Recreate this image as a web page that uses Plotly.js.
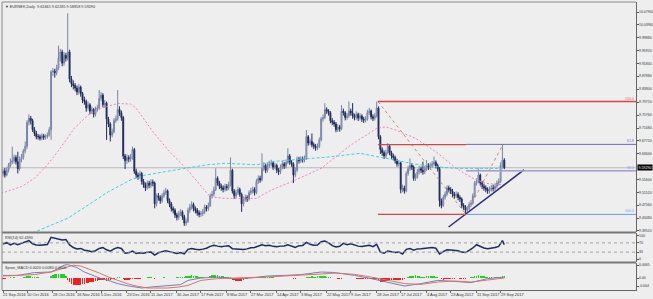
<!DOCTYPE html>
<html><head><meta charset="utf-8">
<script src="https://cdn.plot.ly/plotly-3.0.1.min.js"></script>
<style>html,body{margin:0;padding:0;background:#eeeeee;}#chart{width:653px;height:299px;}</style>
</head><body><div id="chart"></div>
<script>
// ---------- DATA ----------
const symbolName = "EURSEK,Daily";
const opens = [
9.575,9.583,9.570,9.585,9.600,9.610,9.615,9.625,9.612,9.590,
9.620,9.625,9.645,9.660,9.735,9.748,9.740,9.712,9.700,9.690,
9.690,9.685,9.693,9.688,9.690,9.695,9.712,9.893,9.895,9.890,
9.905,9.935,9.955,9.920,9.945,9.935,9.955,9.870,9.855,9.850,
9.842,9.830,9.845,9.825,9.805,9.800,9.780,9.790,9.770,9.775,
9.760,9.775,9.780,9.810,9.820,9.790,9.795,9.745,9.730,9.695,
9.705,9.740,9.745,9.775,9.765,9.750,9.630,9.615,9.625,9.620,
9.625,9.650,9.582,9.570,9.565,9.575,9.550,9.540,9.530,9.545,
9.538,9.548,9.545,9.480,9.505,9.500,9.490,9.505,9.515,9.520,
9.490,9.480,9.465,9.460,9.445,9.438,9.450,9.455,9.440,9.420,
9.425,9.460,9.470,9.478,9.465,9.460,9.452,9.447,9.450,9.455,
9.470,9.465,9.475,9.505,9.510,9.525,9.560,9.545,9.535,9.530,
9.525,9.535,9.530,9.540,9.585,9.520,9.505,9.515,9.525,9.510,
9.480,9.495,9.500,9.495,9.515,9.520,9.525,9.515,9.550,9.560,
9.555,9.590,9.600,9.585,9.600,9.605,9.608,9.595,9.600,9.585,
9.580,9.595,9.605,9.598,9.610,9.630,9.610,9.605,9.570,9.585,
9.620,9.615,9.620,9.618,9.622,9.690,9.670,9.675,9.665,9.660,
9.655,9.660,9.680,9.745,9.750,9.775,9.770,9.765,9.740,9.735,
9.730,9.712,9.720,9.715,9.770,9.765,9.750,9.755,9.770,9.765,
9.755,9.750,9.760,9.748,9.755,9.745,9.742,9.745,9.765,9.770,
9.752,9.748,9.755,9.780,9.690,9.650,9.640,9.630,9.640,9.660,
9.640,9.630,9.625,9.615,9.605,9.608,9.525,9.530,9.520,9.575,
9.590,9.600,9.595,9.560,9.565,9.580,9.590,9.585,9.580,9.590,
9.600,9.595,9.600,9.605,9.610,9.600,9.590,9.490,9.475,9.500,
9.510,9.530,9.525,9.520,9.510,9.505,9.510,9.500,9.495,9.475,
9.470,9.460,9.465,9.478,9.482,9.505,9.545,9.550,9.570,9.545,
9.535,9.530,9.525,9.520,9.525,9.530,9.528,9.535,9.545,9.550,
9.600,9.61661];
const highs = [
9.590,9.592,9.594,9.608,9.622,9.659,9.634,9.632,9.643,9.628,
9.636,9.652,9.675,9.742,9.760,9.755,9.746,9.720,9.708,9.698,
9.697,9.700,9.699,9.697,9.703,9.720,9.898,9.905,9.902,9.915,
9.975,9.965,9.962,9.955,9.952,10.076,9.962,9.880,9.866,9.858,
9.850,9.855,9.850,9.830,9.815,9.806,9.800,9.795,9.785,9.780,
9.784,9.790,9.836,9.830,9.826,9.805,9.800,9.752,9.735,9.715,
9.748,9.756,9.836,9.785,9.772,9.755,9.636,9.635,9.632,9.636,
9.659,9.655,9.590,9.578,9.584,9.580,9.558,9.547,9.553,9.552,
9.557,9.556,9.550,9.512,9.514,9.507,9.513,9.524,9.530,9.525,
9.497,9.486,9.472,9.466,9.452,9.458,9.464,9.460,9.446,9.434,
9.468,9.480,9.488,9.484,9.472,9.467,9.460,9.458,9.464,9.478,
9.476,9.484,9.512,9.520,9.534,9.591,9.566,9.552,9.543,9.538,
9.543,9.542,9.549,9.625,9.590,9.526,9.524,9.534,9.531,9.515,
9.503,9.509,9.507,9.522,9.530,9.534,9.532,9.558,9.569,9.568,
9.638,9.610,9.606,9.609,9.615,9.618,9.614,9.609,9.606,9.592,
9.603,9.614,9.611,9.619,9.654,9.636,9.617,9.610,9.594,9.628,
9.627,9.629,9.628,9.631,9.711,9.695,9.684,9.700,9.672,9.667,
9.669,9.688,9.752,9.760,9.795,9.782,9.776,9.770,9.748,9.742,
9.736,9.729,9.727,9.789,9.778,9.770,9.764,9.800,9.778,9.795,
9.762,9.769,9.765,9.764,9.760,9.752,9.754,9.774,9.780,9.775,
9.760,9.764,9.800,9.785,9.695,9.657,9.647,9.649,9.670,9.665,
9.646,9.637,9.631,9.621,9.617,9.612,9.540,9.537,9.582,9.599,
9.622,9.608,9.600,9.575,9.589,9.599,9.597,9.612,9.599,9.617,
9.607,9.609,9.614,9.628,9.616,9.606,9.595,9.497,9.508,9.519,
9.538,9.537,9.532,9.527,9.517,9.519,9.516,9.507,9.500,9.482,
9.476,9.474,9.486,9.492,9.513,9.552,9.560,9.591,9.575,9.552,
9.543,9.538,9.532,9.534,9.539,9.540,9.544,9.553,9.560,9.610,
9.666,9.62285];
const lows = [
9.565,9.562,9.566,9.578,9.594,9.604,9.606,9.603,9.575,9.584,
9.610,9.618,9.638,9.652,9.725,9.728,9.705,9.692,9.682,9.681,
9.678,9.679,9.680,9.681,9.684,9.690,9.680,9.880,9.875,9.882,
9.898,9.925,9.910,9.912,9.925,9.928,9.860,9.845,9.838,9.832,
9.820,9.822,9.815,9.795,9.790,9.768,9.772,9.760,9.762,9.750,
9.753,9.768,9.775,9.802,9.782,9.780,9.680,9.720,9.675,9.688,
9.700,9.733,9.740,9.755,9.740,9.620,9.589,9.605,9.610,9.612,
9.618,9.574,9.560,9.555,9.558,9.540,9.530,9.520,9.524,9.529,
9.530,9.535,9.466,9.472,9.490,9.480,9.483,9.498,9.508,9.482,
9.470,9.456,9.450,9.436,9.428,9.430,9.442,9.430,9.411,9.412,
9.420,9.452,9.462,9.456,9.450,9.443,9.438,9.439,9.442,9.448,
9.456,9.458,9.470,9.497,9.503,9.520,9.537,9.526,9.521,9.516,
9.518,9.521,9.523,9.535,9.512,9.495,9.498,9.508,9.502,9.455,
9.472,9.487,9.486,9.490,9.508,9.512,9.506,9.510,9.542,9.546,
9.550,9.582,9.576,9.578,9.593,9.597,9.586,9.588,9.576,9.570,
9.573,9.588,9.589,9.591,9.604,9.602,9.596,9.545,9.563,9.580,
9.606,9.608,9.609,9.610,9.617,9.662,9.663,9.657,9.651,9.646,
9.648,9.654,9.675,9.737,9.745,9.761,9.756,9.732,9.726,9.721,
9.704,9.705,9.706,9.710,9.756,9.741,9.743,9.749,9.756,9.746,
9.741,9.743,9.739,9.741,9.736,9.733,9.735,9.740,9.758,9.744,
9.739,9.741,9.750,9.682,9.636,9.630,9.620,9.623,9.635,9.632,
9.621,9.616,9.606,9.596,9.597,9.513,9.516,9.512,9.516,9.568,
9.583,9.586,9.552,9.552,9.558,9.572,9.576,9.571,9.573,9.583,
9.586,9.587,9.593,9.597,9.591,9.581,9.471,9.466,9.470,9.493,
9.504,9.516,9.511,9.501,9.496,9.498,9.491,9.486,9.466,9.461,
9.447,9.452,9.459,9.471,9.477,9.500,9.537,9.544,9.537,9.526,
9.521,9.516,9.511,9.512,9.518,9.519,9.520,9.528,9.537,9.545,
9.594,9.58858];
const closes = [
9.583,9.570,9.585,9.600,9.610,9.615,9.625,9.612,9.590,9.620,
9.625,9.645,9.660,9.735,9.748,9.740,9.712,9.700,9.690,9.690,
9.685,9.693,9.688,9.690,9.695,9.712,9.893,9.895,9.890,9.905,
9.935,9.955,9.920,9.945,9.935,9.955,9.870,9.855,9.850,9.842,
9.830,9.845,9.825,9.805,9.800,9.780,9.790,9.770,9.775,9.760,
9.775,9.780,9.810,9.820,9.790,9.795,9.745,9.730,9.695,9.705,
9.740,9.745,9.775,9.765,9.750,9.630,9.615,9.625,9.620,9.625,
9.650,9.582,9.570,9.565,9.575,9.550,9.540,9.530,9.545,9.538,
9.548,9.545,9.480,9.505,9.500,9.490,9.505,9.515,9.520,9.490,
9.480,9.465,9.460,9.445,9.438,9.450,9.455,9.440,9.420,9.425,
9.460,9.470,9.478,9.465,9.460,9.452,9.447,9.450,9.455,9.470,
9.465,9.475,9.505,9.510,9.525,9.560,9.545,9.535,9.530,9.525,
9.535,9.530,9.540,9.585,9.520,9.505,9.515,9.525,9.510,9.480,
9.495,9.500,9.495,9.515,9.520,9.525,9.515,9.550,9.560,9.555,
9.590,9.600,9.585,9.600,9.605,9.608,9.595,9.600,9.585,9.580,
9.595,9.605,9.598,9.610,9.630,9.610,9.605,9.570,9.585,9.620,
9.615,9.620,9.618,9.622,9.690,9.670,9.675,9.665,9.660,9.655,
9.660,9.680,9.745,9.750,9.775,9.770,9.765,9.740,9.735,9.730,
9.712,9.720,9.715,9.770,9.765,9.750,9.755,9.770,9.765,9.755,
9.750,9.760,9.748,9.755,9.745,9.742,9.745,9.765,9.770,9.752,
9.748,9.755,9.780,9.690,9.650,9.640,9.630,9.640,9.660,9.640,
9.630,9.625,9.615,9.605,9.608,9.525,9.530,9.520,9.575,9.590,
9.600,9.595,9.560,9.565,9.580,9.590,9.585,9.580,9.590,9.600,
9.595,9.600,9.605,9.610,9.600,9.590,9.490,9.475,9.500,9.510,
9.530,9.525,9.520,9.510,9.505,9.510,9.500,9.495,9.475,9.470,
9.460,9.465,9.478,9.482,9.505,9.545,9.550,9.570,9.545,9.535,
9.530,9.525,9.520,9.525,9.530,9.528,9.535,9.545,9.550,9.600,
9.617,9.59290];

// moving averages (read at sampled bars)
const maPinkBars = [-1,10,17,24,31,38.5,46,53,62,69,72,81,90,99,108,112,120,137,145,156,172,188,202,207,212,223,234,245,254,261,271];
const maPinkVals = [9.513,9.534,9.560,9.602,9.654,9.716,9.758,9.779,9.794,9.792,9.779,9.706,9.643,9.591,9.529,9.502,9.497,9.497,9.523,9.549,9.591,9.664,9.716,9.721,9.711,9.685,9.643,9.591,9.560,9.544,9.539];
const maCyanBars = [16,26,35,46,57,69,77,88,99,110,120,137,145,161,177,193,204,212,223,234,245,256,271];
const maCyanVals = [9.389,9.414,9.435,9.476,9.518,9.555,9.570,9.581,9.591,9.602,9.607,9.602,9.612,9.620,9.627,9.638,9.627,9.617,9.604,9.596,9.591,9.591,9.591];

// RSI
const rsiBars = [0,2,4,6,8,10,12,14,16,18,20,22,24,26,28,30,32,34,36,38,40,42,44,46,48,50,52,54,56,58,60,62,64,66,68,70,72,74,76,78,80,82,84,86,88,90,92,94,96,98,100,102,104,106,108,110,112,114,116,118,120,122,124,126,128,130,132,134,136,138,140,142,144,146,148,150,152,154,156,158,160,162,164,166,168,170,172,174,176,178,180,182,184,186,188,190,192,194,196,198,200,202,204,206,208,210,212,214,216,218,220,222,224,226,228,230,232,234,236,238,240,242,244,246,248,250,252,254,256,258,260,262,264,266,268,270,271];
const rsiVals = [65,71,61,68,62,68,75,80,66,61,60,62,63,94,90,87,83,85,61,50,44,46,38,36,32,36,46,50,40,34,44,50,46,25,27,34,24,27,25,29,30,17,27,32,36,32,28,24,28,22,42,46,42,40,43,47,55,60,56,53,56,58,45,43,42,41,44,49,50,57,62,58,60,55,53,56,57,62,55,50,58,59,72,64,60,61,75,78,70,58,52,55,68,62,66,60,56,54,56,60,54,64,30,25,35,32,28,30,22,42,46,38,44,45,46,48,50,47,22,32,40,39,38,36,30,28,38,48,62,54,48,45,47,50,55,80,62.439];
const rsiLevels = [70, 30];

// MACD
const macdBars = [0,8,17,26,30,33,35,40,44,48,53,58,62,68,75,80,85,89,96,100,107,116,125,134,143,152,161,172,178,183,190,199,208,217,226,235,244,253,262,271];
const macdMain = [0.0013,0.0013,0.0027,0.0030,0.0048,0.0064,0.0067,0.0052,0.0030,0.0015,-0.0003,-0.0015,-0.0028,-0.0040,-0.0050,-0.0045,-0.0042,-0.0040,-0.0033,-0.0012,0.0000,0.0005,-0.0003,0.0000,0.0010,0.0013,0.0017,0.0030,0.0028,0.0022,0.0013,-0.0003,-0.0020,-0.0040,-0.0028,-0.0012,-0.0017,-0.0023,-0.0003,0.0005];
const signalBars = [0,17,26,35,38,42,46,52,57,62,67,72,78,89,95,100,107,116,125,134,143,152,161,172,180,190,199,208,217,226,235,244,253,262,271];
const macdSignal = [0.0010,0.0017,0.0030,0.0055,0.0064,0.0060,0.0047,0.0025,0.0005,-0.0012,-0.0028,-0.0040,-0.0050,-0.0050,-0.0045,-0.0037,-0.0012,-0.0003,0.0000,0.0000,0.0005,0.0010,0.0013,0.0020,0.0025,0.0018,0.0005,-0.0010,-0.0028,-0.0032,-0.0020,-0.0015,-0.0020,-0.0010,0.0000];
const macdHist = [
-0.0003,-0.0004,-0.0002,0.0002,0.0003,
0.0002,0.0003,0.0002,-0.0002,0.0001,0.0002,0.0003,0.0004,
0.0008,0.0010,0.0009,0.0007,0.0005,0.0004,0.0003,
0.0002,0.0001,0.0001,0.0000,0.0001,0.0002,
0.0012,0.0016,0.0018,0.0020,0.0022,0.0022,0.0020,0.0018,
0.0012,
-0.0012,-0.0020,-0.0028,-0.0033,-0.0037,-0.0037,-0.0035,-0.0033,-0.0030,-0.0028,-0.0026,-0.0024,-0.0022,-0.0020,
-0.0018,-0.0016,-0.0014,-0.0010,-0.0008,-0.0010,-0.0012,-0.0014,-0.0012,-0.0010,
-0.0006,-0.0003,0.0002,0.0004,0.0003,0.0001,-0.0004,-0.0008,
-0.0010,-0.0008,-0.0006,-0.0004,-0.0006,-0.0005,-0.0004,-0.0003,-0.0002,0.0000,0.0002,0.0003,0.0004,0.0003,
0.0002,-0.0003,-0.0002,-0.0001,0.0001,0.0002,0.0003,0.0001,-0.0001,-0.0002,-0.0001,0.0001,0.0002,0.0003,0.0004,0.0005,0.0006,0.0007,0.0008,
0.0010,0.0012,0.0013,0.0012,0.0010,0.0008,0.0006,0.0004,0.0003,0.0002,0.0001,
0.0005,0.0010,0.0013,0.0016,0.0017,0.0014,0.0012,0.0010,0.0008,0.0006,0.0004,0.0005,
0.0003,-0.0008,-0.0012,-0.0015,-0.0017,-0.0016,-0.0014,-0.0010,-0.0006,-0.0003,-0.0001,
0.0001,0.0002,0.0003,0.0004,0.0005,0.0006,0.0008,0.0007,0.0006,0.0005,0.0004,0.0003,0.0003,0.0002,0.0002,0.0001,0.0000,
-0.0001,-0.0002,-0.0001,0.0002,0.0001,-0.0002,-0.0005,-0.0004,-0.0002,-0.0001,0.0000,0.0001,0.0002,0.0005,0.0006,0.0007,0.0008,0.0007,0.0006,0.0008,0.0010,
0.0012,0.0010,0.0009,0.0007,0.0005,0.0003,0.0001,0.0000,-0.0002,-0.0003,-0.0004,-0.0003,-0.0002,-0.0002,
-0.0002,-0.0001,0.0001,-0.0001,-0.0002,-0.0003,-0.0004,-0.0003,-0.0004,-0.0005,-0.0004,-0.0003,-0.0004,-0.0005,-0.0006,-0.0005,-0.0004,
-0.0012,-0.0018,-0.0020,-0.0019,-0.0017,-0.0014,-0.0010,-0.0008,
-0.0009,-0.0011,-0.0012,-0.0010,-0.0012,-0.0009,-0.0006,-0.0002,
0.0004,0.0008,0.0011,0.0012,0.0013,0.0011,0.0009,0.0007,0.0005,
0.0006,0.0008,0.0010,0.0010,0.0009,0.0008,0.0007,0.0005,0.0002,
-0.0006,-0.0008,-0.0007,-0.0006,-0.0005,-0.0004,-0.0003,-0.0003,-0.0002,
-0.0002,-0.0003,-0.0004,-0.0004,-0.0003,-0.0002,0.0000,0.0003,
0.0007,0.0010,0.0012,0.0013,0.0012,0.0010,0.0008,0.0006,0.0004,
0.0003,0.0003,0.0002,0.0003,0.0004,0.0005,0.0007,0.0010,0.0009];

// Fibonacci / drawing objects
const fibRedLevels = [9.800, 9.665, 9.447];
const fibPinkLevel = 9.582;
const fibBlueLevels = [9.666, 9.584, 9.447];
const fibLabels = ["100.0", "61.8", "38.2", "100.0"];
const fibLabelPrices = [9.800, 9.666, 9.584, 9.447];
const fibAnchorBars = [202.7, 250.3, 270.3];
const fibAnchorPrices = [9.800, 9.447, 9.666];
const trendBars = [240.9, 281.6];
const trendPrices = [9.4076, 9.586];

// axis labels
const dateTickBars = [0,13,27,40,53,67,80,94,107,121,134,148,161,175,188,202,215,229,242,256,269];
const dateTickText = ["21 Sep 2016","10 Oct 2016","28 Oct 2016","16 Nov 2016","5 Dec 2016","23 Dec 2016","11 Jan 2017","30 Jan 2017","17 Feb 2017","8 Mar 2017","27 Mar 2017","14 Apr 2017","3 May 2017","22 May 2017","9 Jun 2017","28 Jun 2017","17 Jul 2017","4 Aug 2017","23 Aug 2017","11 Sep 2017","29 Sep 2017"];
const priceTicks = [10.079,10.0396,9.9988,9.9592,9.9184,9.8788,9.838,9.7972,9.7576,9.7168,9.6772,9.6364,9.556,9.5152,9.4756,9.4348,9.3952];
const priceTickText = ["10.07900","10.03960","9.99880","9.95920","9.91840","9.87880","9.83800","9.79720","9.75760","9.71680","9.67720","9.63640","9.55600","9.51520","9.47560","9.43480","9.39520"];
const rsiTicks = [100, 70, 30, 0];
const rsiTickText = ["100", "70", "30", "0"];
const macdTicks = [0.0065, 0, -0.004];
const macdTickText = ["0.0065", "0.00", "-0.004"];

// ---------- CHART ----------
const barIdx = closes.map((c, i) => i);
const xMin = -0.54, xMax = 342.2;
const last = closes.length - 1;
const fnt = "Liberation Sans, DejaVu Sans, Arial, sans-serif";

const traces = [];
traces.push({
  type: "candlestick", x: barIdx, open: opens, high: highs, low: lows, close: closes,
  xaxis: "x", yaxis: "y", whiskerwidth: 0, hoverinfo: "skip",
  increasing: {line: {color: "#7884a6", width: 1}, fillcolor: "#bcc3d6"},
  decreasing: {line: {color: "#1f2a5a", width: 1}, fillcolor: "#1f2a5a"}
});
traces.push({type: "scatter", mode: "lines", x: maPinkBars, y: maPinkVals, yaxis: "y",
  line: {color: "#f27fc0", width: 1, dash: "2px,2px"}, hoverinfo: "skip"});
traces.push({type: "scatter", mode: "lines", x: maCyanBars, y: maCyanVals, yaxis: "y",
  line: {color: "#3fd0e0", width: 1, dash: "3px,2px"}, hoverinfo: "skip"});
traces.push({type: "scatter", mode: "lines", x: fibAnchorBars, y: fibAnchorPrices, yaxis: "y",
  line: {color: "#c09070", width: 1, dash: "dot"}, hoverinfo: "skip"});
traces.push({type: "scatter", mode: "lines", x: trendBars, y: trendPrices, yaxis: "y",
  line: {color: "#2a2e78", width: 1.5}, hoverinfo: "skip"});

// RSI
traces.push({type: "scatter", mode: "lines", x: rsiBars, y: rsiVals, yaxis: "y2",
  line: {color: "#1c2b5e", width: 1.5}, hoverinfo: "skip"});
// MACD
traces.push({type: "bar", x: barIdx, y: macdHist, yaxis: "y3", width: 0.8,
  marker: {color: macdHist.map(v => v >= 0 ? "#22d022" : "#ee2020"), line: {width: 0}}, hoverinfo: "skip"});
traces.push({type: "scatter", mode: "lines", x: macdBars, y: macdMain, yaxis: "y3",
  line: {color: "#7480b0", width: 1}, hoverinfo: "skip"});
traces.push({type: "scatter", mode: "lines", x: signalBars, y: macdSignal, yaxis: "y3",
  line: {color: "#e07070", width: 1}, hoverinfo: "skip"});

const axCommon = {showgrid: false, zeroline: false, fixedrange: true, side: "right",
  ticks: "outside", ticklen: 2, tickcolor: "#555", tickwidth: 1, showticklabels: false,
  showline: true, linecolor: "#666", linewidth: 1};

const shapes = [
  {type: "line", xref: "paper", yref: "y", x0: 0, x1: 1, y0: closes[last], y1: closes[last],
   line: {color: "#b8b8b8", width: 1}, layer: "below"},
  {type: "line", xref: "paper", yref: "paper", x0: 0, x1: 1, y0: 0.1997, y1: 0.1997, line: {color: "#777", width: 2}},
  {type: "line", xref: "paper", yref: "paper", x0: 0, x1: 1, y0: 0.0955, y1: 0.0955, line: {color: "#777", width: 2}},
  {type: "line", xref: "paper", yref: "paper", x0: 0, x1: 1, y0: 1, y1: 1, line: {color: "#888", width: 1}},
  {type: "line", xref: "paper", yref: "paper", x0: 0, x1: 0, y0: 0, y1: 1, line: {color: "#888", width: 1}}
];
// fibo level lines (shapes in data coordinates)
const redEnds = [xMax, fibAnchorBars[1], fibAnchorBars[1]];
const redCols = ["#e04040", "#d04848", "#d04848"];
fibRedLevels.forEach((p, k) => shapes.push({type: "line", xref: "x", yref: "y",
  x0: fibAnchorBars[0], x1: redEnds[k], y0: p, y1: p, line: {color: redCols[k], width: 1.3}}));
shapes.push({type: "line", xref: "x", yref: "y", x0: fibAnchorBars[1], x1: xMax,
  y0: fibPinkLevel, y1: fibPinkLevel, line: {color: "#f0a0a8", width: 1}});
const blueCols = ["#6e66b8", "#7aa4f0", "#6a9af0"];
fibBlueLevels.forEach((p, k) => shapes.push({type: "line", xref: "x", yref: "y",
  x0: fibAnchorBars[1], x1: xMax, y0: p, y1: p, line: {color: blueCols[k], width: 1}}));
rsiLevels.forEach(v => shapes.push({type: "line", xref: "paper", yref: "y2", x0: 0, x1: 1, y0: v, y1: v,
  line: {color: "#a0a0a0", width: 1, dash: "dot"}}));

const annotations = [];
const smallFont = {family: fnt, size: 3.8, color: "#333"};
annotations.push({xref: "paper", yref: "paper", x: 0.002, y: 1, xanchor: "left", yanchor: "top", yshift: -1, showarrow: false,
  text: "▼ " + symbolName + "  " + opens[last].toFixed(5) + " " + highs[last].toFixed(5) + " " + lows[last].toFixed(5) + " " + closes[last].toFixed(5),
  font: smallFont});
annotations.push({xref: "paper", yref: "paper", x: 0.002, y: 0.1979, xanchor: "left", yanchor: "top", yshift: -1, showarrow: false,
  text: "RSI(14) " + rsiVals[rsiVals.length - 1].toFixed(4), font: smallFont});
annotations.push({xref: "paper", yref: "paper", x: 0.002, y: 0.09375, xanchor: "left", yanchor: "top", yshift: -1, showarrow: false,
  text: "Spron_MACD 0.0020 0.0080 0.0000", font: smallFont});
// right-axis labels
const axisLabelFont = {family: fnt, size: 3.5, color: "#333"};
priceTicks.forEach((v, k) => annotations.push({xref: "paper", yref: "y", x: 1, y: v, xanchor: "left", yanchor: "middle",
  xshift: 2, showarrow: false, borderpad: 0, text: priceTickText[k], font: axisLabelFont}));
rsiTicks.forEach((v, k) => annotations.push({xref: "paper", yref: "y2", x: 1, y: v, xanchor: "left", yanchor: "middle",
  xshift: 2, showarrow: false, borderpad: 0, text: rsiTickText[k], font: axisLabelFont}));
macdTicks.forEach((v, k) => annotations.push({xref: "paper", yref: "y3", x: 1, y: v, xanchor: "left", yanchor: "middle",
  xshift: 2, showarrow: false, borderpad: 0, text: macdTickText[k], font: axisLabelFont}));
annotations.push({xref: "paper", yref: "y", x: 1, y: closes[last], xanchor: "left", yanchor: "middle", xshift: 1, showarrow: false,
  text: closes[last].toFixed(5), bgcolor: "#000", borderpad: 0.5, font: {family: fnt, size: 3.6, color: "#fff"}});
const fibLabelCols = ["#d07070", "#7e6cc0", "#7aa4f0", "#6a9af0"];
fibLabels.forEach((t, k) => annotations.push({xref: "paper", yref: "y", x: 0.998, y: fibLabelPrices[k],
  xanchor: "right", yanchor: "bottom", showarrow: false, text: t, borderpad: 0,
  font: {family: fnt, size: 3.5, color: fibLabelCols[k]}}));
dateTickBars.forEach((b, k) => annotations.push({xref: "x", yref: "paper", x: b, y: 0, xanchor: "left", yanchor: "top",
  yshift: -1, xshift: -1, showarrow: false, text: dateTickText[k], borderpad: 0,
  font: {family: fnt, size: 4, color: "#333"}}));

const layout = {
  width: 653, height: 299,
  margin: {l: 2, r: 17, t: 2, b: 9, pad: 0},
  paper_bgcolor: "#eeeeee", plot_bgcolor: "#eeeeee",
  showlegend: false, hovermode: false, bargap: 0,
  font: {family: fnt, size: 4, color: "#333"},
  xaxis: {domain: [0, 1], range: [xMin, xMax], anchor: "y3", showgrid: false, zeroline: false,
    rangeslider: {visible: false}, fixedrange: true, showticklabels: false,
    tickvals: dateTickBars, ticks: "outside", ticklen: 2, tickcolor: "#666",
    showline: true, linecolor: "#666", linewidth: 1},
  yaxis: Object.assign({}, axCommon, {domain: [0.2014, 1], range: [9.392, 10.1112], anchor: "x", tickvals: priceTicks}),
  yaxis2: Object.assign({}, axCommon, {domain: [0.0972, 0.1979], range: [-13, 113], anchor: "x", tickvals: rsiTicks}),
  yaxis3: Object.assign({}, axCommon, {domain: [0, 0.09375], range: [-0.006, 0.0075], anchor: "x", tickvals: macdTicks}),
  shapes: shapes, annotations: annotations
};

Plotly.newPlot("chart", traces, layout, {staticPlot: true, displayModeBar: false});
</script></body></html>
